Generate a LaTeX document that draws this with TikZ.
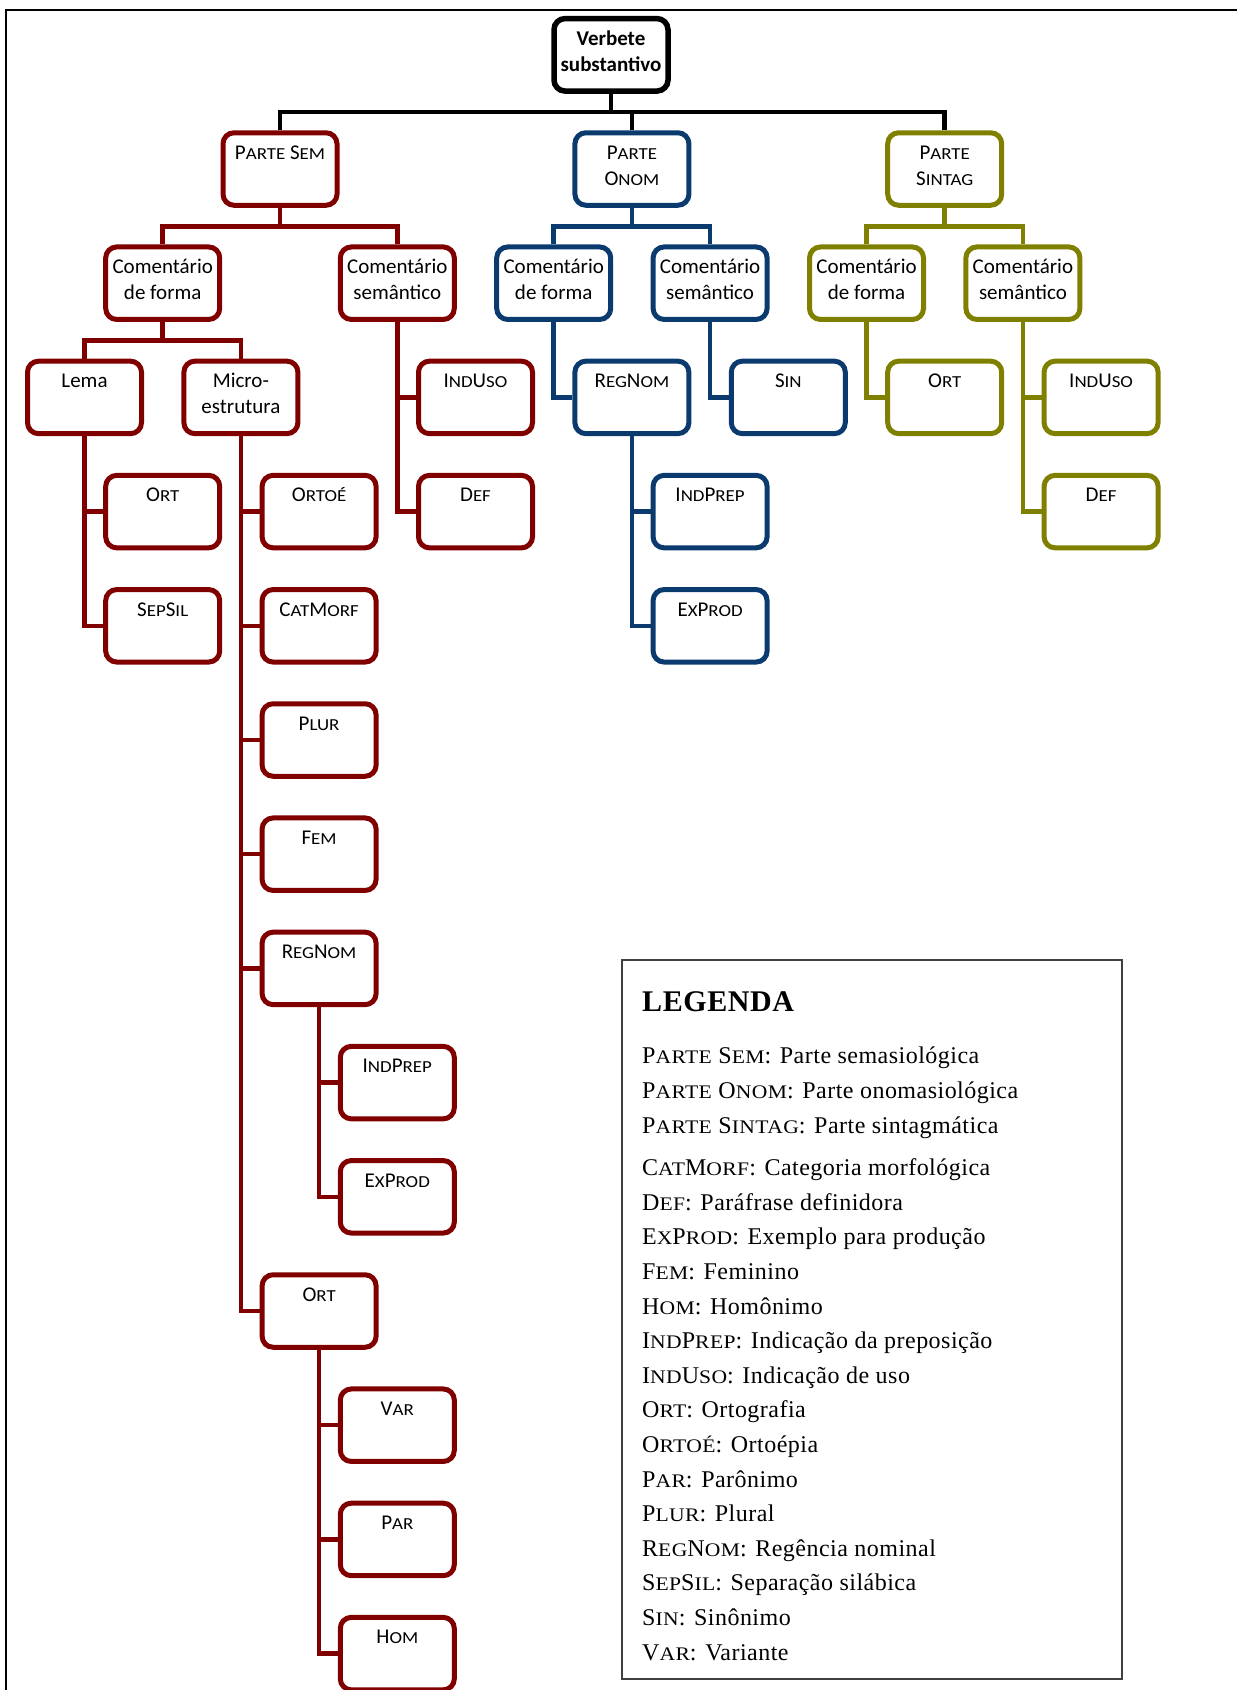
\documentclass[tikz,border=0pt]{standalone}
\usepackage{fontspec}
\setmainfont{Carlito}
\newfontfamily\legfont[LetterSpace=2.0]{Liberation Serif}
\usepackage{graphicx}
\usepackage{tikz}
\usetikzlibrary{positioning, calc}
\definecolor{semRed}{HTML}{800000}
\definecolor{onomBlue}{HTML}{0B3B6E}
\definecolor{sinOlive}{HTML}{808000}
\definecolor{legGray}{HTML}{404040}
\newcommand{\fsc}[1]{\scalebox{0.9}[0.8]{#1}}

\begin{document}
\begin{tikzpicture}[x=1pt, y=-1pt, bx/.style={draw, fill=white, rounded corners=11pt, line width=5pt, minimum width=114pt, inner sep=0pt, align=center, text height=26.5pt, text depth=46pt, font=\fontsize{21}{26}\selectfont}, two/.style={text height=52.5pt, text depth=20pt}, sem/.style={bx, draw=semRed}, onom/.style={bx, draw=onomBlue}, sint/.style={bx, draw=sinOlive}, ln/.style={line width=4.5pt}]
\useasboundingbox (0,0) rectangle (1237,1690);
\draw[line width=2.5pt] (6,10) rectangle (1260,1720);
% root and the three parts
\node[bx, two, draw=black, line width=5.5pt, font=\fontsize{21}{26}\selectfont\bfseries] (root) at (611,54.8) {Verbete\\substantivo};
\node[sem] (psem) at (280,169) {P\fsc{ARTE} S\fsc{EM}};
\node[onom, two] (ponom) at (631.9,169) {P\fsc{ARTE}\\O\fsc{NOM}};
\node[sint, two] (psint) at (944.7,169) {P\fsc{ARTE}\\S\fsc{INTAG}};
% comments
\node[sem, two] (cfsem) at (162.7,283.2) {Comentário\\de forma};
\node[sem, two] (cssem) at (397.3,283.2) {Comentário\\semântico};
\node[onom, two] (cfonom) at (553.7,283.2) {Comentário\\de forma};
\node[onom, two] (csonom) at (710.1,283.2) {Comentário\\semântico};
\node[sint, two] (cfsint) at (866.5,283.2) {Comentário\\de forma};
\node[sint, two] (cssint) at (1022.9,283.2) {Comentário\\semântico};
% semasiological part
\node[sem] (lema) at (84.5,397.4) {Lema};
\node[sem, two] (micro) at (240.9,397.4) {Micro-\\estrutura};
\node[sem] (indusos) at (475.5,397.4) {I\fsc{ND}U\fsc{SO}};
\node[sem] (defs) at (475.5,511.6) {D\fsc{EF}};
\node[sem] (ortl) at (162.7,511.6) {O\fsc{RT}};
\node[sem] (sepsil) at (162.7,625.8) {S\fsc{EP}S\fsc{IL}};
\node[sem] (ortoe) at (319.1,511.6) {O\fsc{RTOÉ}};
\node[sem] (catmorf) at (319.1,625.8) {C\fsc{AT}M\fsc{ORF}};
\node[sem] (plur) at (319.1,740) {P\fsc{LUR}};
\node[sem] (fem) at (319.1,854.2) {F\fsc{EM}};
\node[sem] (regnoms) at (319.1,968.4) {R\fsc{EG}N\fsc{OM}};
\node[sem] (indpreps) at (397.3,1082.6) {I\fsc{ND}P\fsc{REP}};
\node[sem] (exprods) at (397.3,1196.8) {E\fsc{X}P\fsc{ROD}};
\node[sem] (orts) at (319.1,1311) {O\fsc{RT}};
\node[sem] (var) at (397.3,1425.2) {V\fsc{AR}};
\node[sem] (par) at (397.3,1539.4) {P\fsc{AR}};
\node[sem] (hom) at (397.3,1653.6) {H\fsc{OM}};
% onomasiological part
\node[onom] (regnomo) at (631.9,397.4) {R\fsc{EG}N\fsc{OM}};
\node[onom] (sin) at (788.3,397.4) {S\fsc{IN}};
\node[onom] (indprepo) at (710.1,511.6) {I\fsc{ND}P\fsc{REP}};
\node[onom] (exprodo) at (710.1,625.8) {E\fsc{X}P\fsc{ROD}};
% syntagmatic part
\node[sint] (ortsi) at (944.7,397.4) {O\fsc{RT}};
\node[sint] (indusosi) at (1101.1,397.4) {I\fsc{ND}U\fsc{SO}};
\node[sint] (defsi) at (1101.1,511.6) {D\fsc{EF}};
% connectors
\coordinate (bar) at (611,112);
\draw[ln] (root.south) -- (bar);
\draw[ln] (psem.north) |- (bar) -| (psint.north);
\draw[ln] (ponom.north) -- (ponom.north |- bar);
\coordinate (semBar) at (280,226.5);
\coordinate (onomBar) at (631.9,226.5);
\coordinate (sintBar) at (944.7,226.5);
\coordinate (cfBar) at (162.7,340.5);
\draw[ln, semRed] (psem.south) -- (semBar);
\draw[ln, semRed] (cfsem.north) |- (semBar) -| (cssem.north);
\draw[ln, onomBlue] (ponom.south) -- (onomBar);
\draw[ln, onomBlue] (cfonom.north) |- (onomBar) -| (csonom.north);
\draw[ln, sinOlive] (psint.south) -- (sintBar);
\draw[ln, sinOlive] (cfsint.north) |- (sintBar) -| (cssint.north);
\draw[ln, semRed] (cfsem.south) -- (cfBar);
\draw[ln, semRed] (lema.north) |- (cfBar) -| (micro.north);
\draw[ln, semRed] (cssem.south) |- (defs.west);
\draw[ln, semRed] (indusos.west) -- (indusos.west -| cssem.south);
\draw[ln, semRed] (lema.south) |- (sepsil.west);
\draw[ln, semRed] (ortl.west) -- (ortl.west -| lema.south);
\draw[ln, semRed] (micro.south) |- (orts.west);
\foreach \n in {ortoe, catmorf, plur, fem, regnoms}
  \draw[ln, semRed] (\n.west) -- (\n.west -| micro.south);
\draw[ln, semRed] (regnoms.south) |- (exprods.west);
\draw[ln, semRed] (indpreps.west) -- (indpreps.west -| regnoms.south);
\draw[ln, semRed] (orts.south) |- (hom.west);
\draw[ln, semRed] (var.west) -- (var.west -| orts.south);
\draw[ln, semRed] (par.west) -- (par.west -| orts.south);
\draw[ln, onomBlue] (cfonom.south) |- (regnomo.west);
\draw[ln, onomBlue] (csonom.south) |- (sin.west);
\draw[ln, onomBlue] (regnomo.south) |- (exprodo.west);
\draw[ln, onomBlue] (indprepo.west) -- (indprepo.west -| regnomo.south);
\draw[ln, sinOlive] (cfsint.south) |- (ortsi.west);
\draw[ln, sinOlive] (cssint.south) |- (defsi.west);
\draw[ln, sinOlive] (indusosi.west) -- (indusosi.west -| cssint.south);
% legend
\draw[line width=2pt, legGray] (622,960) rectangle (1122,1679);
\node[anchor=base west, inner sep=0pt, font=\legfont\bfseries\fontsize{30}{30}\selectfont] (legtit) at (642,1011) {LEGENDA};
\node[anchor=base west, inner sep=0pt, align=left, font=\legfont\fontsize{24}{34.6}\selectfont] (legtxt) at (642,1660) {P\fsc{ARTE} S\fsc{EM}: Parte semasiológica\\
P\fsc{ARTE} O\fsc{NOM}: Parte onomasiológica\\
P\fsc{ARTE} S\fsc{INTAG}: Parte sintagmática\\[8pt]
C\fsc{AT}M\fsc{ORF}: Categoria morfológica\\
D\fsc{EF}: Paráfrase definidora\\
E\fsc{X}P\fsc{ROD}: Exemplo para produção\\
F\fsc{EM}: Feminino\\
H\fsc{OM}: Homônimo\\
I\fsc{ND}P\fsc{REP}: Indicação da preposição\\
I\fsc{ND}U\fsc{SO}: Indicação de uso\\
O\fsc{RT}: Ortografia\\
O\fsc{RTOÉ}: Ortoépia\\
P\fsc{AR}: Parônimo\\
P\fsc{LUR}: Plural\\
R\fsc{EG}N\fsc{OM}: Regência nominal\\
S\fsc{EP}S\fsc{IL}: Separação silábica\\
S\fsc{IN}: Sinônimo\\
V\fsc{AR}: Variante};
\end{tikzpicture}
\end{document}
